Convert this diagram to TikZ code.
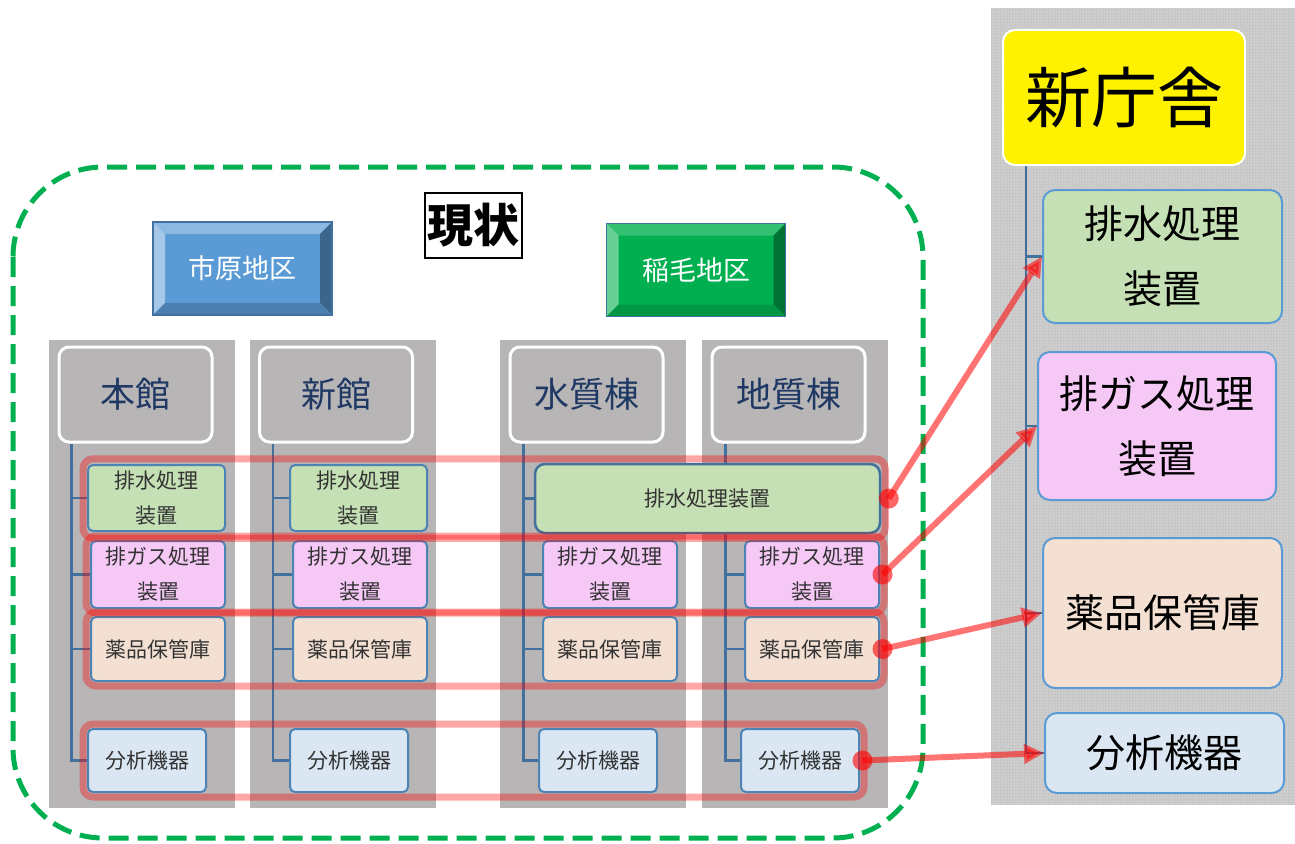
\documentclass[tikz,border=0pt]{standalone}
\usepackage{fontspec}
\setmainfont{Noto Sans CJK JP}
\usepackage{xcolor}
\definecolor{colGray}{HTML}{B7B5B5}
\definecolor{lineBlue}{HTML}{41719C}
\definecolor{boxBlue}{HTML}{5B9BD5}
\definecolor{fillWater}{HTML}{C5E0B4}
\definecolor{fillGas}{HTML}{F6C8F6}
\definecolor{fillChem}{HTML}{F3E0D3}
\definecolor{fillLab}{HTML}{DAE7F3}
\definecolor{frameGreen}{HTML}{00B050}
\definecolor{navyText}{HTML}{1F3864}
\usetikzlibrary{arrows.meta,fit,patterns,backgrounds}

\begin{document}
\begin{tikzpicture}[x=1pt,y=-1pt,
  colbox/.style={fill=colGray,inner sep=0pt,minimum width=186pt,minimum height=468pt},
  head/.style={fill=colGray,draw=white,line width=3pt,rounded corners=10pt,inner sep=0pt,
    minimum width=153pt,minimum height=95pt,text=navyText,font=\fontsize{35}{40}\selectfont},
  item/.style={draw=boxBlue!85!black,line width=2pt,rounded corners=5pt,inner sep=0pt,
    align=center,text=black!80,font=\fontsize{21}{35}\selectfont},
  big/.style={draw=boxBlue,line width=2pt,rounded corners=12pt,inner sep=0pt,align=center,
    minimum width=239pt,font=\fontsize{39}{65}\selectfont},
  tree/.style={draw=lineBlue,line width=2.2pt},
  band/.style={draw=red,draw opacity=0.35,line width=7pt,rounded corners=10pt,inner sep=4pt},
  dot/.style={circle,fill=red,fill opacity=0.6,inner sep=0pt,minimum size=20pt},
  arr/.style={-{Triangle[length=20pt,width=19pt]},line width=6pt,draw=red,opacity=0.55},
  area/.style={draw=lineBlue,line width=1.5pt,inner sep=0pt,minimum width=179pt,
    minimum height=93pt,text=white,font=\fontsize{27}{30}\selectfont},
  bevel/.style n args={4}{path picture={
    \coordinate (bnw) at (path picture bounding box.north west);
    \coordinate (bne) at (path picture bounding box.north east);
    \coordinate (bsw) at (path picture bounding box.south west);
    \coordinate (bse) at (path picture bounding box.south east);
    \fill[#1] (bnw) -- (bne) -- ([shift={(-12pt,-12pt)}]bne) -- ([shift={(12pt,-12pt)}]bnw) -- cycle;
    \fill[#2] (bnw) -- (bsw) -- ([shift={(12pt,12pt)}]bsw) -- ([shift={(12pt,-12pt)}]bnw) -- cycle;
    \fill[#3] (bne) -- (bse) -- ([shift={(-12pt,12pt)}]bse) -- ([shift={(-12pt,-12pt)}]bne) -- cycle;
    \fill[#4] (bsw) -- (bse) -- ([shift={(-12pt,12pt)}]bse) -- ([shift={(12pt,12pt)}]bsw) -- cycle;}}]
  \useasboundingbox (0,0) rectangle (1295,843);
  % current state
  \node[head] (h1) at (135.5,394.5) {本館};
  \node[head] (h2) at (336,394.5) {新館};
  \node[head] (h3) at (586.5,394.5) {水質棟};
  \node[head] (h4) at (788.5,394.5) {地質棟};
  \node[item,fill=fillWater,minimum width=137pt,minimum height=66pt] (w1) at (156.5,498) {排水処理\\装置};
  \node[item,fill=fillGas,minimum width=134pt,minimum height=67pt] (g1) at (158,574.5) {排ガス処理\\装置};
  \node[item,fill=fillChem,minimum width=134pt,minimum height=64pt] (c1) at (158,649) {薬品保管庫};
  \node[item,fill=fillLab,minimum width=118pt,minimum height=63pt] (a1) at (147,760.5) {分析機器};
  \node[item,fill=fillWater,minimum width=137pt,minimum height=66pt] (w2) at (358.5,498) {排水処理\\装置};
  \node[item,fill=fillGas,minimum width=134pt,minimum height=67pt] (g2) at (360,574.5) {排ガス処理\\装置};
  \node[item,fill=fillChem,minimum width=134pt,minimum height=64pt] (c2) at (360,649) {薬品保管庫};
  \node[item,fill=fillLab,minimum width=118pt,minimum height=63pt] (a2) at (349,760.5) {分析機器};
  \node[item,fill=fillWater,draw=lineBlue,line width=2.5pt,rounded corners=10pt,
    minimum width=345pt,minimum height=69pt] (w3) at (707.5,498.5) {排水処理装置};
  \node[item,fill=fillGas,minimum width=134pt,minimum height=67pt] (g3) at (610,574.5) {排ガス処理\\装置};
  \node[item,fill=fillChem,minimum width=134pt,minimum height=64pt] (c3) at (610,649) {薬品保管庫};
  \node[item,fill=fillLab,minimum width=118pt,minimum height=63pt] (a3) at (598,760.5) {分析機器};
  \node[item,fill=fillGas,minimum width=134pt,minimum height=67pt] (g4) at (812,574.5) {排ガス処理\\装置};
  \node[item,fill=fillChem,minimum width=134pt,minimum height=64pt] (c4) at (812,649) {薬品保管庫};
  \node[item,fill=fillLab,minimum width=118pt,minimum height=63pt] (a4) at (800,760.5) {分析機器};
  \node[band,fit=(w1)(w3)] (row1) {};
  \node[band,fit=(g1)(g4)] (row2) {};
  \node[band,fit=(c1)(c4)] (row3) {};
  \node[band,fit=(a1)(a4)] (row4) {};
  \node[area,fill=boxBlue,bevel={boxBlue!70!white}{boxBlue!55!white}{boxBlue!65!black}{boxBlue!82!black}]
    (ichi) at (242.5,268.5) {市原地区};
  \node[area,fill=frameGreen,bevel={frameGreen!80!white}{frameGreen!60!white}{frameGreen!65!black}{frameGreen!85!black}]
    (inage) at (696,270) {稲毛地区};
  \node[draw=black,line width=1.5pt,fill=white,inner sep=0pt,minimum width=97pt,minimum height=65pt,
    font=\fontsize{46}{50}\selectfont\bfseries] (now) at (473.5,225.5) {現状};
  % new building
  \node[fill=yellow,draw=white,line width=2pt,rounded corners=12pt,inner sep=0pt,
    minimum width=242pt,minimum height=135pt,font=\fontsize{66}{70}\selectfont] (shin) at (1124,97.5) {新庁舎};
  \node[big,fill=fillWater,minimum height=133pt] (R1) at (1162.5,256.5) {排水処理\\装置};
  \node[big,fill=fillGas,minimum width=238pt,minimum height=148pt] (R2) at (1157,426) {排ガス処理\\装置};
  \node[big,fill=fillChem,minimum height=150pt] (R3) at (1162.5,613) {薬品保管庫};
  \node[big,fill=fillLab,minimum height=80pt] (R4) at (1164.5,753) {分析機器};
  \node[dot] (d1) at (row1.east) {};
  \node[dot] (d2) at ([xshift=-5pt]row2.east) {};
  \node[dot] (d3) at ([xshift=-5pt]row3.east) {};
  \node[dot] (d4) at ([xshift=-5pt]row4.east) {};
  \draw[arr] (d1.center) -- (R1.west);
  \draw[arr] (d2.center) -- (R2.west);
  \draw[arr] (d3.center) -- (R3.west);
  \draw[arr] (d4.center) -- (R4.west);
  \begin{scope}[on background layer]
    \draw[frameGreen,line width=5pt,dash pattern=on 20pt off 9pt,rounded corners=90pt]
      (13,167) rectangle (923,838);
    \node[colbox] (col1) at (142,574) {};
    \node[colbox] (col2) at (343,574) {};
    \node[colbox] (col3) at (593,574) {};
    \node[colbox] (col4) at (795,574) {};
    \node[fill=black!22,inner sep=0pt,minimum width=304pt,minimum height=797pt,
      postaction={pattern=dots,pattern color=white}] (panel) at (1143,406.5) {};
    \draw[tree] ([xshift=14pt]h1.south west) |- (a1.west)
      ([xshift=14pt]h1.south west) |- (w1.west) ([xshift=14pt]h1.south west) |- (g1.west)
      ([xshift=14pt]h1.south west) |- (c1.west);
    \draw[tree] ([xshift=15pt]h2.south west) |- (a2.west)
      ([xshift=15pt]h2.south west) |- (w2.west) ([xshift=15pt]h2.south west) |- (g2.west)
      ([xshift=15pt]h2.south west) |- (c2.west);
    \draw[tree] ([xshift=15pt]h3.south west) |- (a3.west)
      ([xshift=15pt]h3.south west) |- (w3.west) ([xshift=15pt]h3.south west) |- (g3.west)
      ([xshift=15pt]h3.south west) |- (c3.west);
    \draw[tree] ([xshift=15pt]h4.south west) |- (a4.west)
      ([xshift=15pt]h4.south west) |- (g4.west) ([xshift=15pt]h4.south west) |- (c4.west);
    \draw[tree] ([xshift=24pt]shin.south west) |- (R4.west)
      ([xshift=24pt]shin.south west) |- (R1.west) ([xshift=24pt]shin.south west) |- (R2.west)
      ([xshift=24pt]shin.south west) |- (R3.west);
  \end{scope}
\end{tikzpicture}
\end{document}
